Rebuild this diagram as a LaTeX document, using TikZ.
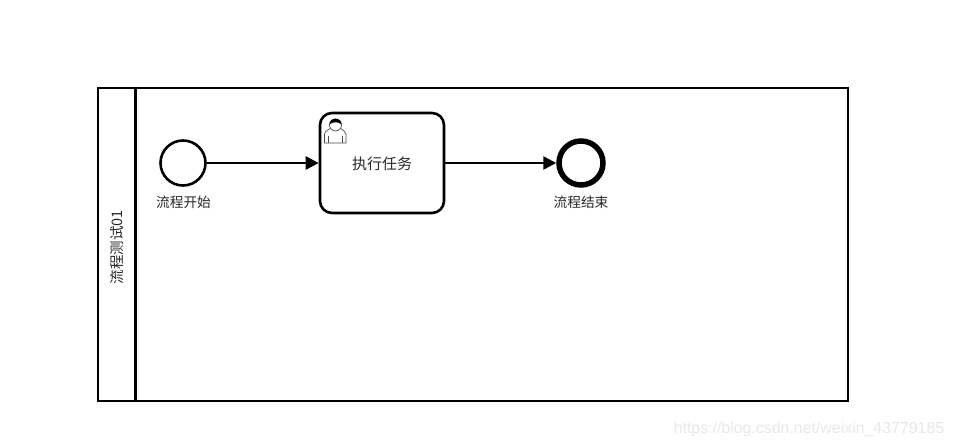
\documentclass[tikz,border=0pt]{standalone}
\usepackage{fontspec}
\setmainfont{Liberation Sans}
\newfontfamily\cjk{Noto Sans CJK SC}[Scale=1]
\usetikzlibrary{arrows.meta}
\definecolor{wm}{RGB}{232,232,232}
\definecolor{lbl}{RGB}{40,40,40}
\tikzset{
  x=1pt,y=-1pt,
  flowline/.style={line width=2.5pt,-{Triangle[length=13pt,width=13pt]}},
  startev/.style={circle,draw,line width=2.6pt,minimum size=45pt,inner sep=0pt,fill=white},
  endev/.style={circle,draw,line width=5.5pt,minimum size=44pt,inner sep=0pt,fill=white},
  taskbox/.style={draw,line width=2.6pt,rounded corners=12pt,minimum width=124pt,minimum height=100pt,inner sep=0pt,fill=white},
  lab/.style={font=\cjk\fontsize{13.7}{15}\selectfont,text=lbl,inner sep=0pt},
  poolbox/.style={draw,line width=2.8pt,minimum width=750pt,minimum height=313pt,inner sep=0pt},
}
\begin{document}
\begin{tikzpicture}
\useasboundingbox (0,0) rectangle (953,447);
\fill[white] (0,0) rectangle (953,447);
\node[poolbox] (pool) at (473,244.5) {};
\coordinate (divtop) at (135.5,88);
\coordinate (divbot) at (135.5,401);
\draw[line width=2.8pt] (divtop) -- (divbot);
\node[lab,rotate=90,font=\cjk\fontsize{14.5}{15}\selectfont] (poolname) at (117,247) {流程测试01};
\node[startev] (start) at (183,163) {};
\node[lab] (startlab) at (183.5,202) {流程开始};
\node[taskbox] (task) at (382,163) {};
\node[lab,font=\cjk\fontsize{15}{16}\selectfont] (tasklab) at (382,163.5) {执行任务};
\node[endev] (end) at (581,163) {};
\node[lab] (endlab) at (581,202) {流程结束};
\draw[flowline] (start) -- (task);
\draw[flowline] (task) -- (end);
% user icon
\begin{scope}[line width=0.7pt,draw=black!70]
\draw[fill=white] (324.5,143) -- (324.5,134) .. controls (325,130.5) and (329,130) .. (331,128) -- (340,128) .. controls (342,130) and (345.5,130.5) .. (346,134) -- (346,143) -- cycle;
\draw[fill=white] (335.5,125) circle[radius=6];
\fill[black] (329.5,124.5) .. controls (329.5,116.5) and (341.5,116.5) .. (341.5,124.5) .. controls (339,121.5) and (332,121.5) .. (329.5,124.5) -- cycle;
\draw (328.5,143) -- (328.5,136);
\draw (342.5,143) -- (342.5,136);
\end{scope}
\node[font=\fontsize{15.9}{18}\selectfont,text=wm,inner sep=0pt] (mark) at (809,429.5) {https://blog.csdn.net/weixin\_43779185};
\end{tikzpicture}
\end{document}
